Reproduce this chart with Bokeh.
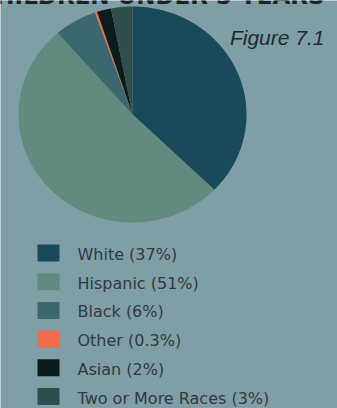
import numpy as np
from bokeh.plotting import figure
from bokeh.models import Range1d
from bokeh.core.properties import value
from bokeh.embed import file_html
from bokeh.resources import INLINE

categories = ["White", "Hispanic", "Black", "Other", "Asian", "Two or More Races"]
shares = [37, 51, 6, 0.3, 2, 3]
share_labels = ["37%", "51%", "6%", "0.3%", "2%", "3%"]
colors = ["#184a5a", "#628a7e", "#3b686c", "#f26b4b", "#0b1c1c", "#2e4f4d"]
title_text = "CHILDREN UNDER 5 YEARS"
figure_label = "Figure 7.1"

W, H = 337, 408
BG = "#809ea6"
TXT = "#30393f"

p = figure(width=W, height=H, x_range=Range1d(0, W), y_range=Range1d(H, 0),
           output_backend="svg", toolbar_location=None, min_border=0)
p.axis.visible = False
p.grid.visible = False
p.outline_line_color = None
p.background_fill_color = BG
p.border_fill_color = BG

cx, cy, rx, ry = 132, 114, 114, 108
vals = np.array(shares, dtype=float)
frac = vals / vals.sum()
ends = np.cumsum(frac) * 2 * np.pi
starts = ends - frac * 2 * np.pi
xs, ys = [], []
for a0, a1 in zip(starts, ends):
    t = np.linspace(a0, a1, max(4, int((a1 - a0) * 80)))
    xs.append([cx] + list(cx + rx * np.sin(t)))
    ys.append([cy] + list(cy - ry * np.cos(t)))
p.patches(xs, ys, fill_color=colors, line_color=None)

# legend
idx = np.arange(len(categories))
ly = 252.5 + idx * 28.7
p.rect(x=48, y=ly, width=22, height=17, fill_color=colors, line_color=None)
labels = [f"{c} ({s})" for c, s in zip(categories, share_labels)]
p.text(x=[77] * len(labels), y=list(ly + 1.5), text=labels, text_font=value("DejaVu Sans"),
       text_font_size="16px", text_color=TXT, text_baseline="middle", text_align="left")

p.text(x=[324], y=[37], text=[figure_label], text_font=value("Liberation Sans"),
       text_font_style="italic", text_font_size="21px", text_color="#1d2b30",
       text_align="right", text_baseline="alphabetic")
p.text(x=[324], y=[-5], text=[title_text], text_font=value("DejaVu Sans"),
       text_font_style="bold", text_font_size="23px", text_color="#1a2428",
       text_align="right", text_baseline="alphabetic")

open("out.html", "w").write(file_html(p, INLINE))
